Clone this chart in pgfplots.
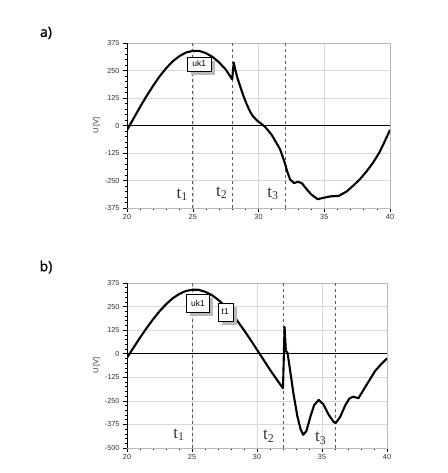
\documentclass[border=0pt]{standalone}
\usepackage{fontspec}
\setmainfont{Liberation Sans}
\newfontfamily\serifT{Liberation Serif}
\newfontfamily\labfont[FakeBold=1.2]{Open Sans}
\usepackage{pgfplots}
\pgfplotsset{compat=1.18}
\usetikzlibrary{shadows}

\pgfplotsset{myax/.style={
  scale only axis, xmin=20, xmax=40, xtick={20,25,...,40},
  minor x tick num=4, minor y tick num=4,
  grid=major, major grid style={gray!30, line width=0.5pt},
  axis line style={gray!55, line width=0.5pt},
  tick style={black, line width=0.45pt}, tick align=outside,
  major tick length=4pt, minor tick length=2.5pt,
  xtick pos=left, ytick pos=left,
  ticklabel style={font=\fontsize{7.3}{8}\selectfont, text=black!80},
  /pgf/number format/assume math mode=true,
  /pgf/number format/set thousands separator={},
  ylabel={U [V]}, ylabel style={font=\fontsize{7.5}{8}\selectfont, text=black!80, yshift=-2pt},
  xticklabel style={yshift=1pt},
}}
\tikzset{
curve/.style={black, line width=2.1pt, line join=round},
vline/.style={dashed, black!65, line width=0.6pt},
zline/.style={black, line width=0.8pt},
tlab/.style={font=\serifT\fontsize{17}{17}\selectfont, text=black!80},
ukbox/.style={draw=black, line width=0.4pt, fill=white, inner sep=1pt,
  font=\fontsize{8.5}{9}\selectfont, minimum height=14pt,
  drop shadow={shadow xshift=4pt, shadow yshift=-4pt, fill=gray!55, opacity=1}},
}

\begin{document}
\begin{tikzpicture}
\useasboundingbox (0pt,0pt) rectangle (447pt,473pt);

\node[font=\labfont\fontsize{14}{14}\selectfont] at (46pt,440pt) {a)};
\node[font=\labfont\fontsize{14}{14}\selectfont] at (46pt,206pt) {b)};

% ---------- a) ----------
\begin{axis}[myax, at={(127pt,265pt)}, anchor=south west, width=263pt, height=165pt,
  ymin=-375, ymax=375, ytick={-375,-250,...,375}]
\addplot[zline] coordinates {(20,0) (40,0)};
\addplot[vline] coordinates {(25,-375) (25,375)};
\addplot[vline] coordinates {(28,-375) (28,375)};
\addplot[vline] coordinates {(32,-375) (32,375)};
\addplot[curve] coordinates {
(20,-21) (20.5,32) (21,85) (21.5,135) (22,182) (22.5,225) (23,262) (23.5,293)
(24,316) (24.5,332) (25,339) (25.5,339) (26,329) (26.5,312) (27,287) (27.5,255)
(28,210) (28.05,245) (28.12,286) (28.2,262) (28.4,215) (28.85,135) (29.1,97)
(29.36,63) (29.6,40) (29.9,22) (30.12,12) (30.5,-6) (31.0,-42) (31.64,-108)
(32.0,-170) (32.2,-212)
(32.4,-245) (32.7,-262) (33.0,-256) (33.3,-262) (33.6,-285) (34.0,-313) (34.5,-335)
(35.0,-328) (35.5,-322) (36.1,-320) (36.7,-300) (37.3,-268) (37.7,-245) (38.2,-210)
(38.7,-170) (39.2,-122) (39.6,-72) (40,-20)};
\draw[black, line width=0.6pt] (rel axis cs:0,1) -- (rel axis cs:0,0) -- (rel axis cs:1,0);
\node[ukbox, minimum width=24pt] at (axis cs:25.5,280) {uk1};
\node[tlab] at (axis cs:24.2,-315) {t\textsubscript{1}};
\node[tlab] at (axis cs:27.2,-305) {t\textsubscript{2}};
\node[tlab] at (axis cs:31.1,-310) {t\textsubscript{3}};
\end{axis}

% ---------- b) ----------
\begin{axis}[myax, at={(127pt,25pt)}, anchor=south west, width=260pt, height=165pt,
  ymin=-500, ymax=375, ytick={-500,-375,...,375}]
\addplot[zline, line width=1.1pt] coordinates {(20,0) (40,0)};
\addplot[vline] coordinates {(25,-500) (25,375)};
\addplot[vline] coordinates {(32,-500) (32,375)};
\addplot[vline] coordinates {(36,-500) (36,375)};
\addplot[curve] coordinates {
(20,-21) (20.5,32) (21,85) (21.5,135) (22,182) (22.5,225) (23,262) (23.5,293)
(24,316) (24.5,332) (25,339) (25.5,339) (26,329) (26.5,312) (27,287) (27.5,255)
(28,217) (28.5,173) (29,125) (29.5,74) (30,21) (30.5,-32) (31,-85) (31.5,-135)
(32,-183) (32.12,142) (32.22,15) (32.35,5) (32.55,-90) (32.8,-210) (33.1,-330)
(33.35,-400) (33.55,-430) (33.8,-410) (34.1,-335) (34.4,-272) (34.75,-245)
(35.1,-268) (35.5,-322) (35.9,-362) (36.05,-368) (36.4,-335) (36.8,-272)
(37.1,-238) (37.4,-228) (37.8,-236) (38.5,-157) (39.1,-90) (39.6,-52) (40,-25)};
\draw[black, line width=0.6pt] (rel axis cs:0,1) -- (rel axis cs:0,0) -- (rel axis cs:1,0);
\node[ukbox, minimum width=23pt, minimum height=18pt] at (axis cs:25.46,269) {uk1};
\node[ukbox, minimum width=15pt, minimum height=18pt] at (axis cs:27.56,222) {t1};
\node[tlab] at (axis cs:24.0,-430) {t\textsubscript{1}};
\node[tlab] at (axis cs:30.9,-438) {t\textsubscript{2}};
\node[tlab] at (axis cs:34.9,-447) {t\textsubscript{3}};
\end{axis}
\end{tikzpicture}
\end{document}
